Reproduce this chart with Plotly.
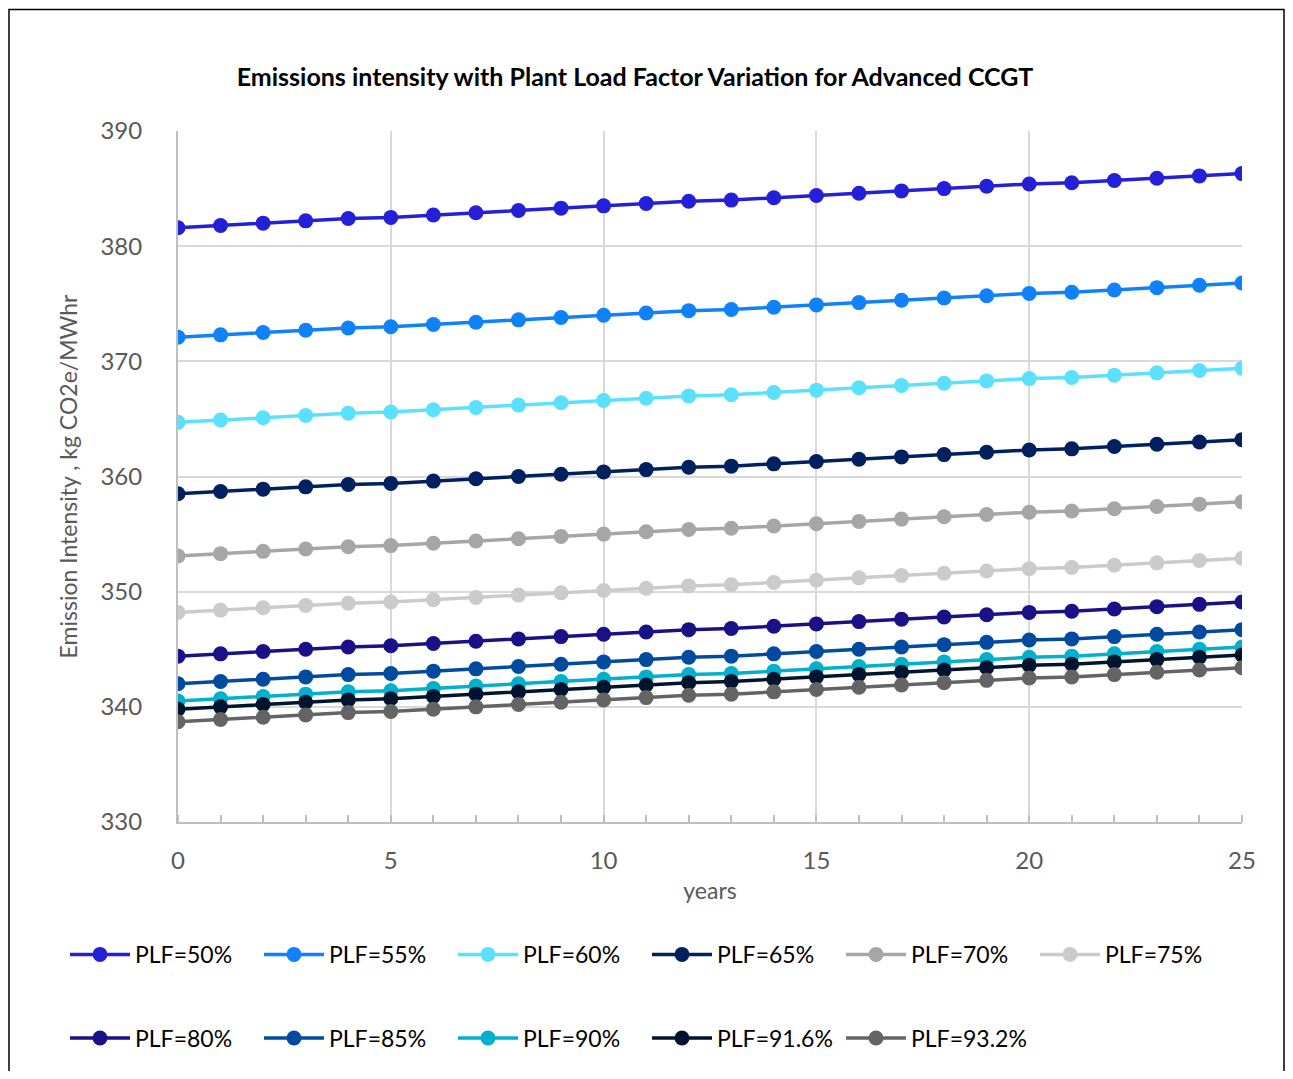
import plotly.graph_objects as go

years = list(range(26))

series_names = ["PLF=50%", "PLF=55%", "PLF=60%", "PLF=65%", "PLF=70%", "PLF=75%",
                "PLF=80%", "PLF=85%", "PLF=90%", "PLF=91.6%", "PLF=93.2%"]

plf_50 = [381.6, 381.8, 382.0, 382.2, 382.4, 382.5, 382.7, 382.9, 383.1, 383.3, 383.5, 383.7, 383.9,
          384.0, 384.2, 384.4, 384.6, 384.8, 385.0, 385.2, 385.4, 385.5, 385.7, 385.9, 386.1, 386.3]
plf_55 = [372.1, 372.3, 372.5, 372.7, 372.9, 373.0, 373.2, 373.4, 373.6, 373.8, 374.0, 374.2, 374.4,
          374.5, 374.7, 374.9, 375.1, 375.3, 375.5, 375.7, 375.9, 376.0, 376.2, 376.4, 376.6, 376.8]
plf_60 = [364.7, 364.9, 365.1, 365.3, 365.5, 365.6, 365.8, 366.0, 366.2, 366.4, 366.6, 366.8, 367.0,
          367.1, 367.3, 367.5, 367.7, 367.9, 368.1, 368.3, 368.5, 368.6, 368.8, 369.0, 369.2, 369.4]
plf_65 = [358.5, 358.7, 358.9, 359.1, 359.3, 359.4, 359.6, 359.8, 360.0, 360.2, 360.4, 360.6, 360.8,
          360.9, 361.1, 361.3, 361.5, 361.7, 361.9, 362.1, 362.3, 362.4, 362.6, 362.8, 363.0, 363.2]
plf_70 = [353.1, 353.3, 353.5, 353.7, 353.9, 354.0, 354.2, 354.4, 354.6, 354.8, 355.0, 355.2, 355.4,
          355.5, 355.7, 355.9, 356.1, 356.3, 356.5, 356.7, 356.9, 357.0, 357.2, 357.4, 357.6, 357.8]
plf_75 = [348.2, 348.4, 348.6, 348.8, 349.0, 349.1, 349.3, 349.5, 349.7, 349.9, 350.1, 350.3, 350.5,
          350.6, 350.8, 351.0, 351.2, 351.4, 351.6, 351.8, 352.0, 352.1, 352.3, 352.5, 352.7, 352.9]
plf_80 = [344.4, 344.6, 344.8, 345.0, 345.2, 345.3, 345.5, 345.7, 345.9, 346.1, 346.3, 346.5, 346.7,
          346.8, 347.0, 347.2, 347.4, 347.6, 347.8, 348.0, 348.2, 348.3, 348.5, 348.7, 348.9, 349.1]
plf_85 = [342.0, 342.2, 342.4, 342.6, 342.8, 342.9, 343.1, 343.3, 343.5, 343.7, 343.9, 344.1, 344.3,
          344.4, 344.6, 344.8, 345.0, 345.2, 345.4, 345.6, 345.8, 345.9, 346.1, 346.3, 346.5, 346.7]
plf_90 = [340.5, 340.7, 340.9, 341.1, 341.3, 341.4, 341.6, 341.8, 342.0, 342.2, 342.4, 342.6, 342.8,
          342.9, 343.1, 343.3, 343.5, 343.7, 343.9, 344.1, 344.3, 344.4, 344.6, 344.8, 345.0, 345.2]
plf_916 = [339.8, 340.0, 340.2, 340.4, 340.6, 340.7, 340.9, 341.1, 341.3, 341.5, 341.7, 341.9, 342.1,
           342.2, 342.4, 342.6, 342.8, 343.0, 343.2, 343.4, 343.6, 343.7, 343.9, 344.1, 344.3, 344.5]
plf_932 = [338.7, 338.9, 339.1, 339.3, 339.5, 339.6, 339.8, 340.0, 340.2, 340.4, 340.6, 340.8, 341.0,
           341.1, 341.3, 341.5, 341.7, 341.9, 342.1, 342.3, 342.5, 342.6, 342.8, 343.0, 343.2, 343.4]

series_values = [plf_50, plf_55, plf_60, plf_65, plf_70, plf_75,
                 plf_80, plf_85, plf_90, plf_916, plf_932]

colors = ["#2320D8", "#0F82FA", "#5BE1FF", "#002060", "#A6A6A6", "#CBCBCB",
          "#1A1188", "#004BA0", "#00B0CC", "#00142F", "#646464"]

FONT = "Lato"

# page offset (body margin) and figure size (kept inside the viewport: no scrollbars)
OFF = 8
W, H = 1277, 1063
L, R, T, B = 178, 1242, 131, 825   # plot area in screen pixels
PW, PH = R - L, B - T

def px(sx):
    return (sx - L) / PW

def py(sy):
    return (B - sy) / PH

fig = go.Figure()
for i, (name, vals, col) in enumerate(zip(series_names, series_values, colors)):
    fig.add_trace(go.Scatter(
        x=years, y=vals, name=name, mode="lines+markers",
        line=dict(color=col, width=3.5),
        marker=dict(color=col, size=15),
        legend="legend" if i < 6 else "legend2",
    ))

leg_common = dict(orientation="h", xanchor="left", yanchor="middle",
                  entrywidth=119, entrywidthmode="pixels", itemwidth=60,
                  font=dict(family=FONT, size=23, color="#000000"),
                  bgcolor="rgba(0,0,0,0)", traceorder="normal")

fig.update_layout(
    width=W, height=H,
    paper_bgcolor="white", plot_bgcolor="white",
    margin=dict(l=L - OFF, r=W + OFF - R, t=T - OFF, b=H + OFF - B),
    title=dict(text="<b>Emissions intensity with Plant Load Factor Variation for Advanced CCGT</b>",
               font=dict(family=FONT, size=25, color="#000000"),
               x=(635 - OFF) / W, xanchor="center", y=1 - (77 - OFF) / H, yanchor="middle"),
    legend=dict(x=px(65), y=py(958), **leg_common),
    legend2=dict(x=px(65), y=py(1042), **leg_common),
    showlegend=True,
)

fig.update_xaxes(
    range=[0, 25], dtick=5, tick0=0,
    showgrid=True, gridcolor="#D9D9D9", gridwidth=2,
    showline=True, linecolor="#BFBFBF", linewidth=2,
    ticks="outside", ticklen=16, tickcolor="rgba(0,0,0,0)",
    tickfont=dict(family=FONT, size=24, color="#595959"),
    minor=dict(dtick=1, ticks="inside", ticklen=7, tickcolor="#BFBFBF", tickwidth=1.5, showgrid=False),
    title=dict(text="years", font=dict(family=FONT, size=23, color="#595959"), standoff=10),
    zeroline=False,
)
fig.update_yaxes(
    range=[330, 390], dtick=10,
    showgrid=True, gridcolor="#D9D9D9", gridwidth=2,
    showline=True, linecolor="#BFBFBF", linewidth=2,
    ticks="outside", ticklen=29, tickcolor="rgba(0,0,0,0)",
    tickfont=dict(family=FONT, size=24, color="#595959"),
    title=dict(text="Emission Intensity , kg CO2e/MWhr",
               font=dict(family=FONT, size=23, color="#595959"), standoff=16),
    zeroline=False,
)

# outer chart border (kept just inside the figure canvas)
fig.add_shape(type="rect", xref="paper", yref="paper",
              x0=px(OFF + 1), x1=px(OFF + W - 1), y0=py(1120), y1=py(OFF + 1),
              line=dict(color="#000000", width=1.5), fillcolor="rgba(0,0,0,0)", layer="below")

fig.write_html("out.html")
